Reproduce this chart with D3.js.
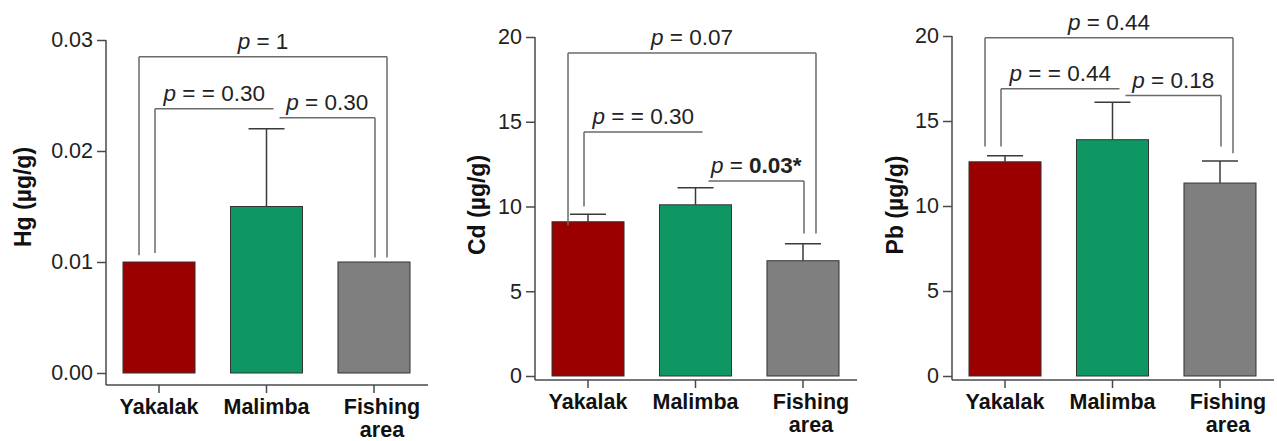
<!DOCTYPE html>
<html>
<head>
<meta charset="utf-8">
<script src="https://cdn.jsdelivr.net/npm/d3@7"></script>
<style>
  html, body { margin: 0; padding: 0; background: #fff; }
  svg { display: block; font-family: Arial, "Liberation Sans", sans-serif; }
</style>
</head>
<body>
<div id="chart"></div>
<script>
// Trois panneaux: Hg, Cd, Pb par site (moyenne + erreur), avec crochets de p-values

const sites = ["Yakalak", "Malimba", "Fishing area"];

const hgMeans = [0.010, 0.015, 0.010];
const hgErrors = [0, 0.007, 0];
const hgTicks = [0, 0.01, 0.02, 0.03];

const cdMeans = [9.1, 10.1, 6.8];
const cdErrors = [0.45, 1.0, 1.0];
const cdTicks = [0, 5, 10, 15, 20];

const pbMeans = [12.6, 13.9, 11.35];
const pbErrors = [0.35, 2.2, 1.3];
const pbTicks = [0, 5, 10, 15, 20];

// crochets: a -> b, hauteur du trait, bas des jambes (null = pas de jambe)
const hgBrackets = [
  { a: 0, b: 2, y: 0.0285, legA: 0.0106, legB: 0.0104, text: "= 1", bold: "" },
  { a: 0, b: 1, y: 0.0238, legA: 0.0108, legB: null, text: "= = 0.30", bold: "" },
  { a: 1, b: 2, y: 0.0230, legA: null, legB: 0.0104, text: "= 0.30", bold: "" }
];
const cdBrackets = [
  { a: 0, b: 2, y: 19.05, legA: 8.9, legB: 8.4, text: "= 0.07", bold: "" },
  { a: 0, b: 1, y: 14.4, legA: 10.0, legB: null, text: "= = 0.30", bold: "" },
  { a: 1, b: 2, y: 11.5, legA: null, legB: 8.4, text: "= ", bold: "0.03*" }
];
const pbBrackets = [
  { a: 0, b: 2, y: 19.9, legA: 13.5, legB: 13.1, text: "= 0.44", bold: "" },
  { a: 0, b: 1, y: 16.9, legA: 13.5, legB: null, text: "= = 0.44", bold: "" },
  { a: 1, b: 2, y: 16.5, legA: null, legB: 13.5, text: "= 0.18", bold: "" }
];

const colors = ["#9b0000", "#0f9763", "#7f7f7f"];

const panels = [
  { label: "Hg (µg/g)", means: hgMeans, errors: hgErrors, ticks: hgTicks, brackets: hgBrackets,
    fmt: d3.format(".2f"), axisX: 106, top: 40, zero: 373, base: 385, labelX: 23, labelY: 197 },
  { label: "Cd (µg/g)", means: cdMeans, errors: cdErrors, ticks: cdTicks, brackets: cdBrackets,
    fmt: d3.format("d"), axisX: 535, top: 37, zero: 376, base: 380, labelX: 477, labelY: 205 },
  { label: "Pb (µg/g)", means: pbMeans, errors: pbErrors, ticks: pbTicks, brackets: pbBrackets,
    fmt: d3.format("d"), axisX: 952, top: 36, zero: 376, base: 380, labelX: 895, labelY: 205 }
];

const W = 1277, H = 441;
const FONT = "Arial, 'Liberation Sans', sans-serif";
const AXIS = "#4a4a4a";
const LINE = "#6a6a6a";

const svg = d3.select("#chart").append("svg")
  .attr("width", W)
  .attr("height", H);

panels.forEach(p => {
  const g = svg.append("g");

  const x = d3.scaleBand()
    .domain(sites)
    .range([p.axisX + 17, p.axisX + 304])
    .paddingInner(0.33)
    .paddingOuter(0);

  const y = d3.scaleLinear()
    .domain([0, d3.max(p.ticks)])
    .range([p.zero, p.top]);

  const cx = i => x(sites[i]) + x.bandwidth() / 2;

  // Axe Y (sans domaine auto, on trace la ligne nous-mêmes)
  const yAxis = d3.axisLeft(y).tickValues(p.ticks).tickFormat(p.fmt).tickSize(9).tickPadding(4);
  const gy = g.append("g").attr("transform", `translate(${p.axisX},0)`).call(yAxis)
    .attr("font-family", FONT);
  gy.select(".domain").remove();
  gy.selectAll(".tick line").attr("stroke", AXIS).attr("stroke-width", 1.5);
  gy.selectAll(".tick text").attr("fill", "#222").attr("font-size", 21.5);

  g.append("line")
    .attr("x1", p.axisX).attr("x2", p.axisX)
    .attr("y1", p.top).attr("y2", p.base)
    .attr("stroke", AXIS).attr("stroke-width", 1.5);

  // Axe X
  g.append("line")
    .attr("x1", p.axisX).attr("x2", p.axisX + 322)
    .attr("y1", p.base).attr("y2", p.base)
    .attr("stroke", AXIS).attr("stroke-width", 1.5);

  g.selectAll(".xtick")
    .data(sites)
    .enter()
    .append("line")
    .attr("x1", d => x(d) + x.bandwidth() / 2)
    .attr("x2", d => x(d) + x.bandwidth() / 2)
    .attr("y1", p.base)
    .attr("y2", p.base + 8)
    .attr("stroke", AXIS).attr("stroke-width", 1.5);

  const xl = g.selectAll(".xlab")
    .data(sites)
    .enter()
    .append("text")
    .attr("text-anchor", "middle")
    .attr("font-weight", "bold")
    .attr("font-size", 21.5)
    .attr("fill", "#111")
    .attr("y", p.base + 29);

  xl.each(function(d) {
    const words = d.split(" ");
    const c = x(d) + x.bandwidth() / 2 + (words.length > 1 ? 8 : 0);
    const t = d3.select(this);
    words.forEach((w, k) => {
      t.append("tspan").attr("x", c).attr("dy", k === 0 ? 0 : 23).text(w);
    });
  });

  // Libellé Y
  g.append("text")
    .attr("transform", `translate(${p.labelX + 8},${p.labelY}) rotate(-90)`)
    .attr("text-anchor", "middle")
    .attr("font-weight", "bold")
    .attr("font-size", 23)
    .attr("fill", "#111")
    .text(p.label);

  // Barres
  g.selectAll(".bar")
    .data(p.means)
    .enter()
    .append("rect")
    .attr("x", (d, i) => x(sites[i]))
    .attr("width", x.bandwidth())
    .attr("y", d => y(d))
    .attr("height", d => y(0) - y(d))
    .attr("fill", (d, i) => colors[i])
    .attr("stroke", "#333")
    .attr("stroke-width", 1);

  // Barres d'erreur (vers le haut seulement)
  p.means.forEach((m, i) => {
    const e = p.errors[i];
    if (!e) return;
    const c = cx(i);
    g.append("line")
      .attr("x1", c).attr("x2", c)
      .attr("y1", y(m)).attr("y2", y(m + e))
      .attr("stroke", "#3a3a3a").attr("stroke-width", 1.5);
    g.append("line")
      .attr("x1", c - 18).attr("x2", c + 18)
      .attr("y1", y(m + e)).attr("y2", y(m + e))
      .attr("stroke", "#3a3a3a").attr("stroke-width", 1.5);
  });

  // Crochets
  p.brackets.forEach(b => {
    let off;
    if (b.a === 0 && b.b === 2) off = [-20, 13];
    else if (b.a === 0) off = [-4, 7];
    else off = [13, 1];
    const x1 = cx(b.a) + off[0];
    const x2 = cx(b.b) + off[1];
    const yy = y(b.y);

    g.append("line")
      .attr("x1", x1).attr("x2", x2)
      .attr("y1", yy).attr("y2", yy)
      .attr("stroke", LINE).attr("stroke-width", 1.5);
    if (b.legA !== null) {
      g.append("line")
        .attr("x1", x1).attr("x2", x1)
        .attr("y1", yy).attr("y2", y(b.legA))
        .attr("stroke", LINE).attr("stroke-width", 1.5);
    }
    if (b.legB !== null) {
      g.append("line")
        .attr("x1", x2).attr("x2", x2)
        .attr("y1", yy).attr("y2", y(b.legB))
        .attr("stroke", LINE).attr("stroke-width", 1.5);
    }

    const t = g.append("text")
      .attr("x", (x1 + x2) / 2)
      .attr("y", yy - 8)
      .attr("text-anchor", "middle")
      .attr("font-size", 22.5)
      .attr("fill", "#222")
      .attr("xml:space", "preserve");
    t.append("tspan").attr("font-style", "italic").text("p");
    t.append("tspan").text(" " + b.text);
    if (b.bold) t.append("tspan").attr("font-weight", "bold").text(b.bold);
  });
});
</script>
</body>
</html>
